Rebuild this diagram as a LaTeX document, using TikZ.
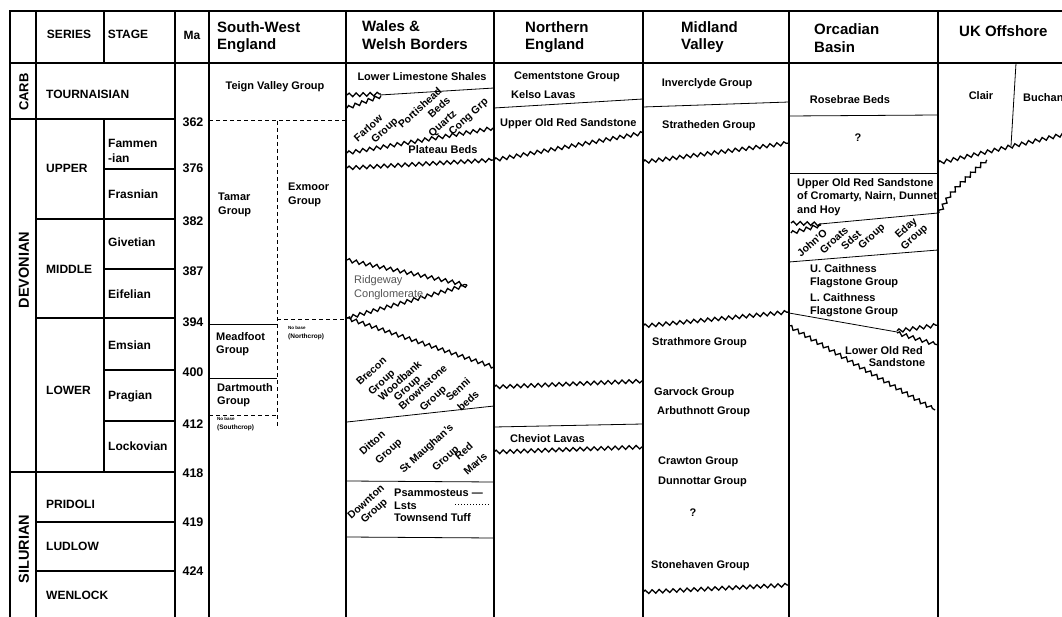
\documentclass[tikz,border=0pt]{standalone}
\usepackage{fontspec}
\setmainfont{Liberation Sans}
\usetikzlibrary{decorations.pathmorphing, positioning}
\definecolor{ridgegray}{RGB}{85, 85, 85}

\begin{document}
\begin{tikzpicture}[x=1pt, y=-1pt,
                    gridline/.style={line width=1.6pt},
                    bedline/.style={line width=0.8pt},
                    dashline/.style={line width=1pt, dash pattern=on 4pt off 3pt},
                    wavy/.style={line width=1.3pt, decorate,
                                 decoration={snake, segment length=7pt, amplitude=1.8pt}},
                    regionhead/.style={font=\fontsize{15}{17.5}\selectfont\bfseries,
                                       align=left, anchor=west, inner sep=0pt},
                    headcell/.style={font=\fontsize{12}{14}\selectfont\bfseries, inner sep=0pt},
                    eralabel/.style={font=\fontsize{14.5}{16}\selectfont\bfseries, rotate=90, inner sep=0pt},
                    serieslabel/.style={font=\fontsize{12}{15}\selectfont\bfseries,
                                        align=left, anchor=west, inner sep=0pt},
                    malabel/.style={font=\fontsize{12.5}{14}\selectfont\bfseries, inner sep=0pt},
                    unitlabel/.style={font=\fontsize{11}{13.5}\selectfont\bfseries,
                                      align=left, inner sep=0pt},
                    tiltlabel/.style={font=\fontsize{10.5}{12}\selectfont\bfseries, rotate=42, inner sep=0pt},
                    tiltpair/.style={tiltlabel, align=center, font=\fontsize{10.5}{#1}\selectfont\bfseries},
                    tinylabel/.style={font=\fontsize{6.5}{7}\selectfont\bfseries, anchor=west, inner sep=0pt}]
                    \fill[white] (0,0) rectangle (1062,617);
                    \useasboundingbox (0,0) rectangle (1062,617);
                    \clip (0,0) rectangle (1062,617);

                    \draw[gridline] (10,617) -- (10,11) -- (1062,11);
                    \draw[gridline] (10,63) -- (1062,63);
                    \foreach \xcol in {36,175,209,346,494,643,789,938}
                        \draw[gridline] (\xcol,11) -- (\xcol,617);
                    \draw[gridline] (104,11) -- (104,63);
                    \draw[gridline] (104,119) -- (104,472);
                    \draw[gridline] (10,119) -- (175,119);
                    \draw[gridline] (10,472) -- (175,472);
                    \foreach \ybound in {219,318,522,571}
                        \draw[gridline] (36,\ybound) -- (175,\ybound);
                    \foreach \ybound in {169,269,370,421}
                        \draw[gridline] (104,\ybound) -- (175,\ybound);

                    \node[headcell] (series) at (69,34) {SERIES};
                    \node[headcell] (stage) at (128,34) {STAGE};
                    \node[headcell] (ma) at (192,35) {Ma};
                    \node[regionhead] (swengland) at (217,37) {South-West\\England};
                    \node[regionhead] (wales) at (362,35) {Wales \&\\Welsh Borders};
                    \node[regionhead] (northeng) at (525,37) {Northern\\England};
                    \node[regionhead] (midland) at (681,37) {Midland\\Valley};
                    \node[regionhead] (orcadian) at (814,38) {Orcadian\\Basin};
                    \node[regionhead] (offshore) at (959,31) {UK Offshore};

                    \node[eralabel, font=\fontsize{13}{15}\selectfont\bfseries] (carb) at (24,92) {CARB};
                    \node[eralabel] (devonian) at (24,270) {DEVONIAN};
                    \node[eralabel] (silurian) at (24,549) {SILURIAN};

                    \node[serieslabel] (tournaisian) at (46,94) {TOURNAISIAN};
                    \node[serieslabel] (upper) at (46,168) {UPPER};
                    \node[serieslabel] (middle) at (46,269) {MIDDLE};
                    \node[serieslabel] (lower) at (46,390) {LOWER};
                    \node[serieslabel] (pridoli) at (46,504) {PRIDOLI};
                    \node[serieslabel] (ludlow) at (46,546) {LUDLOW};
                    \node[serieslabel] (wenlock) at (46,595) {WENLOCK};

                    \node[serieslabel] (famennian) at (108,151) {Fammen\\-ian};
                    \node[serieslabel] (frasnian) at (108,194) {Frasnian};
                    \node[serieslabel] (givetian) at (108,242) {Givetian};
                    \node[serieslabel] (eifelian) at (108,294) {Eifelian};
                    \node[serieslabel] (emsian) at (108,345) {Emsian};
                    \node[serieslabel] (pragian) at (108,396) {Pragian};
                    \node[serieslabel] (lockovian) at (108,446) {Lockovian};

                    \foreach \yma/\age in {122/362,168/376,221/382,271/387,322/394,
                                           372/400,424/412,473/418,522/419,571/424}
                        \node[malabel] (ma\age) at (193,\yma) {\age};

                    \node[unitlabel] (teign) at (275,87) {Teign Valley Group};
                    \draw[dashline] (209,121) -- (346,121);
                    \draw[dashline] (277,121) -- (277,428);
                    \draw[dashline] (277,320) -- (346,320);
                    \draw[bedline] (209,324) -- (277,324);
                    \draw[bedline] (209,378) -- (277,378);
                    \draw[dashline] (209,415) -- (277,415);
                    \node[unitlabel, anchor=west] (tamar) at (218,205) {Tamar\\Group};
                    \node[unitlabel, anchor=west] (exmoor) at (288,195) {Exmoor\\Group};
                    \node[unitlabel, anchor=west] (meadfoot) at (216,344) {Meadfoot\\Group};
                    \node[unitlabel, anchor=west] (dartmouth) at (217,395) {Dartmouth\\Group};
                    \node[tinylabel, font=\fontsize{4.5}{5}\selectfont\bfseries] (nobasen) at (288,328) {No base};
                    \node[tinylabel] (northcrop) at (288,337) {(Northcrop)};
                    \node[tinylabel, font=\fontsize{4.5}{5}\selectfont\bfseries] (nobases) at (217,419) {No base};
                    \node[tinylabel] (southcrop) at (217,428) {(Southcrop)};

                    \node[unitlabel] (lls) at (422,77) {Lower Limestone Shales};
                    \draw[bedline] (380,95) -- (494,88);
                    \draw[wavy] (347,95) -- (381,94);
                    \draw[wavy] (347,108) -- (381,96);
                    \node[tiltlabel] (farlow) at (368,128) {Farlow};
                    \node[tiltlabel] (farlowgp) at (385,131) {Group};
                    \node[tiltpair=12.5, align=right] (portishead) at (424,112.5) {Portishead\\Beds};
                    \node[tiltlabel] (quartz) at (443,124) {Quartz};
                    \node[tiltlabel] (conggrp) at (469,117) {Cong Grp};
                    \draw[wavy] (347,153) -- (494,128);
                    \node[unitlabel] (plateau) at (443,150) {Plateau Beds};
                    \draw[wavy] (347,168) -- (494,160);
                    \draw[wavy] (494,160) -- (643,133);
                    \draw[wavy] (347,260) -- (467,285);
                    \draw[wavy] (467,285) -- (347,318);
                    \draw[wavy] (347,318) -- (494,367);
                    \node[unitlabel, font=\fontsize{11}{14}\selectfont, text=ridgegray, anchor=west] (ridgeway) at (354,288) {Ridgeway\\Conglomerate};
                    \node[tiltpair=15] (brecon) at (377,377.5) {Brecon\\Group};
                    \node[tiltpair=10.5] (woodbank) at (404,385) {Woodbank\\Group};
                    \node[tiltpair=15] (brownstone) at (428.5,393.5) {Brownstone\\Group};
                    \node[tiltpair=15] (senni) at (463,395) {Senni\\beds};
                    \draw[bedline] (347,422) -- (494,406);
                    \node[tiltlabel] (ditton) at (372,443) {Ditton};
                    \node[tiltlabel] (dittongp) at (389,452) {Group};
                    \node[tiltlabel] (stmaughans) at (427,449) {St Maughan's};
                    \node[tiltlabel] (stmaughansgp) at (446,459) {Group};
                    \node[tiltpair=17] (redmarls) at (469.5,457.5) {Red\\Marls};
                    \draw[bedline] (347,481) -- (494,482);
                    \node[tiltpair=12] (downton) at (370.5,507) {Downton\\Group};
                    \node[unitlabel, anchor=west] (psammo) at (394,493) {Psammosteus \textemdash};
                    \node[unitlabel, anchor=west] (lsts) at (394,506) {Lsts};
                    \draw[line width=1pt, dotted] (455,504) -- (490,504);
                    \node[unitlabel, anchor=west] (townsend) at (394,518) {Townsend Tuff};
                    \draw[bedline] (347,537) -- (494,538);

                    \node[unitlabel] (cementstone) at (567,77) {Cementstone Group};
                    \node[unitlabel, anchor=west] (kelso) at (511,95) {Kelso Lavas};
                    \draw[bedline] (494,108) -- (643,99);
                    \node[unitlabel, anchor=west] (uors) at (500,124) {Upper Old Red Sandstone};
                    \draw[wavy] (494,387) -- (643,381);
                    \draw[bedline] (494,427) -- (643,424);
                    \node[unitlabel, anchor=west] (cheviot) at (510,439) {Cheviot Lavas};
                    \draw[wavy] (494,452) -- (643,447);

                    \node[unitlabel] (inverclyde) at (707,84) {Inverclyde Group};
                    \draw[bedline] (643,107) -- (789,102);
                    \node[unitlabel, anchor=west] (stratheden) at (662,126) {Stratheden Group};
                    \draw[wavy] (643,162) -- (789,143);
                    \draw[wavy] (643,326) -- (789,312);
                    \node[unitlabel, anchor=west] (strathmore) at (652,343) {Strathmore Group};
                    \node[unitlabel, anchor=west] (garvock) at (654,393) {Garvock Group};
                    \node[unitlabel, anchor=west] (arbuthnott) at (657,412) {Arbuthnott Group};
                    \node[unitlabel, anchor=west] (crawton) at (658,462) {Crawton Group};
                    \node[unitlabel, anchor=west] (dunnottar) at (658,482) {Dunnottar Group};
                    \node[unitlabel] (mvquery) at (693,513) {?};
                    \node[unitlabel, anchor=west] (stonehaven) at (651,566) {Stonehaven Group};
                    \draw[wavy] (643,592) -- (789,585);

                    \node[unitlabel] (rosebrae) at (850,100) {Rosebrae Beds};
                    \draw[bedline] (789,116) -- (938,115);
                    \node[unitlabel] (obquery) at (858,138) {?};
                    \draw[bedline] (789,173) -- (938,173);
                    \node[unitlabel, anchor=west] (uorsob) at (797,197) {Upper Old Red Sandstone\\of Cromarty, Nairn, Dunnet\\and Hoy};
                    \draw[bedline] (820,224) -- (938,213);
                    \draw[wavy] (791,223) -- (821,224);
                    \draw[wavy] (791,233) -- (821,225);
                    \node[tiltlabel] (johno) at (812,243) {John'O};
                    \node[tiltlabel] (groats) at (834,240) {Groats};
                    \node[tiltlabel] (sdst) at (851,240) {Sdst};
                    \node[tiltlabel] (groatsgp) at (872,237) {Group};
                    \node[tiltpair=12] (eday) at (910.5,233) {Eday\\Group};
                    \draw[bedline] (789,262) -- (938,250);
                    \node[unitlabel, anchor=west] (ucaith) at (810,276) {U. Caithness\\Flagstone Group};
                    \node[unitlabel, anchor=west] (lcaith) at (810,305) {L. Caithness\\Flagstone Group};
                    \draw[bedline] (789,313) -- (897,332);
                    \draw[wavy] (897,331) -- (938,325);
                    \draw[wavy] (897,333) -- (938,345);
                    \draw[wavy] (789,326) -- (935,410);
                    \node[unitlabel] (lorsa) at (884,351) {Lower Old Red};
                    \node[unitlabel] (lorsb) at (897,363) {Sandstone};

                    \node[unitlabel] (clair) at (981,96) {Clair};
                    \node[unitlabel, anchor=west] (buchan) at (1023,98) {Buchan};
                    \draw[bedline] (1016,63) -- (1011,146);
                    \draw[wavy] (938,163) -- (1070,133);
                    \draw[wavy] (939,213) -- (948,198) -- (958,187) -- (987,160);
                \end{tikzpicture}
\end{document}
